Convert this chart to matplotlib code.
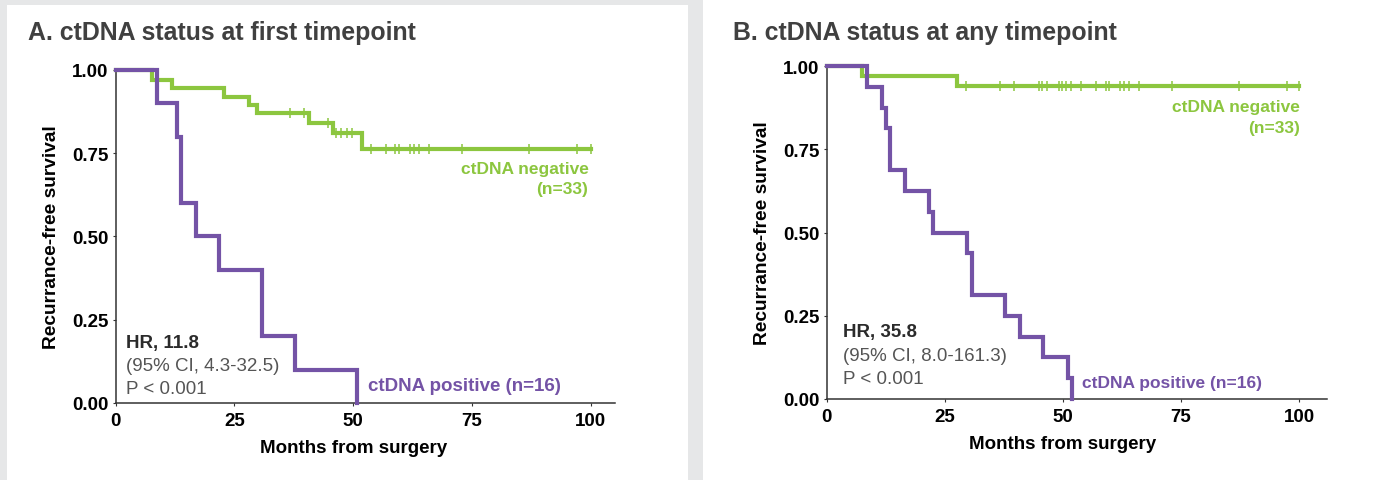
import matplotlib
matplotlib.use("Agg")
import matplotlib.pyplot as plt
from matplotlib.patches import Rectangle

plt.rcParams['font.family'] = ['Liberation Sans', 'DejaVu Sans']

GREEN = '#8CC63F'
PURPLE = '#7453A6'
DARK = '#333333'

# Panel A: ctDNA status at first timepoint
a_pos_times = [0, 8.7, 13.0, 13.7, 16.9, 21.8, 30.9, 37.8, 50.7]
a_pos_surv = [1.0, 0.90, 0.80, 0.60, 0.50, 0.40, 0.20, 0.10, 0.0]
a_neg_times = [0, 7.75, 11.8, 22.9, 28.1, 29.7, 40.8, 45.8, 51.9, 100]
a_neg_surv = [1.0, 0.97, 0.945, 0.92, 0.895, 0.87, 0.84, 0.81, 0.762, 0.762]
a_cens_times = [36.7, 39.7, 44.8, 46.3, 47.5, 48.8, 49.8,
                53.7, 56.8, 58.9, 59.6, 62.0, 62.8, 63.8, 65.9, 73.0, 87.0, 97.0, 100]
a_cens_surv = [0.87, 0.87, 0.84, 0.81, 0.81, 0.81, 0.81,
               0.762, 0.762, 0.762, 0.762, 0.762, 0.762, 0.762, 0.762, 0.762, 0.762, 0.762, 0.762]

# Panel B: ctDNA status at any timepoint
b_pos_times = [0, 8.5, 11.7, 12.6, 13.4, 16.6, 21.7, 22.6, 29.7, 30.7, 37.8, 40.9, 45.9, 51.0, 51.9]
b_pos_surv = [1.0, 0.9375, 0.875, 0.8125, 0.6875, 0.625, 0.5625, 0.5, 0.4375, 0.3125,
              0.25, 0.1875, 0.125, 0.0625, 0.0]
b_neg_times = [0, 7.45, 27.6, 100]
b_neg_surv = [1.0, 0.97, 0.94, 0.94]
b_cens_times = [29.45, 36.7, 39.7, 44.9, 45.7, 46.6, 49.1, 49.9, 50.7, 51.7, 53.8, 57.0,
                59.1, 59.8, 62.1, 63.0, 64.0, 66.1, 73.2, 87.3, 97.4, 100]
b_cens_surv = [0.94] * len(b_cens_times)

fig = plt.figure(figsize=(13.84, 4.81), dpi=100)
fig.patch.set_facecolor('#E6E7E8')
fig.patches.append(Rectangle((7 / 1384, 0), 681 / 1384, 475 / 481,
                             transform=fig.transFigure, facecolor='white', edgecolor='none', zorder=-10))
fig.patches.append(Rectangle((703 / 1384, 0), 681 / 1384, 480 / 481,
                             transform=fig.transFigure, facecolor='white', edgecolor='none', zorder=-10))

ax1 = fig.add_axes([0.0835, 0.1601, 0.3609, 0.6923])
ax2 = fig.add_axes([0.5972, 0.1684, 0.3616, 0.6923])


def km_panel(ax, pos_t, pos_s, neg_t, neg_s, cens_t, cens_s, xmax):
    ax.set_facecolor('none')
    ax.plot(neg_t, neg_s, drawstyle='steps-post', color=GREEN, lw=3.0,
            clip_on=False, solid_joinstyle='miter', zorder=3)
    ax.plot(cens_t, cens_s, linestyle='none', marker='|', markersize=7.5,
            markeredgewidth=1.1, color=GREEN, clip_on=False, zorder=3)
    ax.plot(pos_t, pos_s, drawstyle='steps-post', color=PURPLE, lw=3.0,
            clip_on=False, solid_joinstyle='miter', zorder=4)
    ax.set_xlim(0, xmax)
    ax.set_ylim(0, 1.0)
    ax.set_xticks([0, 25, 50, 75, 100])
    ax.set_yticks([0, 0.25, 0.5, 0.75, 1.0])
    ax.set_yticklabels(['0.00', '0.25', '0.50', '0.75', '1.00'])
    for s in ['top', 'right']:
        ax.spines[s].set_visible(False)
    for s in ['left', 'bottom']:
        ax.spines[s].set_color(DARK)
        ax.spines[s].set_linewidth(1.1)
    ax.tick_params(axis='both', length=2.5, width=0.8, color=DARK,
                   labelsize=13.5, labelcolor='black')
    ax.tick_params(axis='x', pad=4)
    ax.tick_params(axis='y', pad=2.5)
    for lab in ax.get_xticklabels() + ax.get_yticklabels():
        lab.set_fontweight('bold')
    ax.set_ylabel('Recurrance-free survival', fontsize=13.8, fontweight='bold', labelpad=9)
    ax.set_xlabel('Months from surgery', fontsize=13.5, fontweight='bold', labelpad=8)
    ax.xaxis.set_label_coords(50 / xmax, -0.108)


km_panel(ax1, a_pos_times, a_pos_surv, a_neg_times, a_neg_surv, a_cens_times, a_cens_surv, 105.1)
km_panel(ax2, b_pos_times, b_pos_surv, b_neg_times, b_neg_surv, b_cens_times, b_cens_surv, 105.9)

# titles
fig.text(28 / 1384, 1 - 33 / 481, 'A. ctDNA status at first timepoint', fontsize=17.9,
         fontweight='bold', color='#404040', va='center', ha='left')
fig.text(733 / 1384, 1 - 33 / 481, 'B. ctDNA status at any timepoint', fontsize=17.9,
         fontweight='bold', color='#404040', va='center', ha='left')

# panel A annotations
ax1.text(2.2, 0.183, 'HR, 11.8', fontsize=13.5, fontweight='bold', color='#2B2B2B', va='center')
ax1.text(2.2, 0.112, '(95% CI, 4.3-32.5)', fontsize=13.5, color='#555555', va='center')
ax1.text(2.2, 0.044, 'P < 0.001', fontsize=13.5, color='#555555', va='center')
ax1.text(99.5, 0.703, 'ctDNA negative', fontsize=12.5, fontweight='bold', color=GREEN,
         ha='right', va='center')
ax1.text(99.5, 0.643, '(n=33)', fontsize=12.5, fontweight='bold', color=GREEN,
         ha='right', va='center')
ax1.text(53.1, 0.052, 'ctDNA positive (n=16)', fontsize=13.5, fontweight='bold', color=PURPLE,
         ha='left', va='center')

# panel B annotations
ax2.text(3.4, 0.202, 'HR, 35.8', fontsize=13.5, fontweight='bold', color='#2B2B2B', va='center')
ax2.text(3.4, 0.132, '(95% CI, 8.0-161.3)', fontsize=13.5, color='#555555', va='center')
ax2.text(3.4, 0.063, 'P < 0.001', fontsize=13.5, color='#555555', va='center')
ax2.text(100.1, 0.879, 'ctDNA negative', fontsize=12.5, fontweight='bold', color=GREEN,
         ha='right', va='center')
ax2.text(100.1, 0.816, '(n=33)', fontsize=12.5, fontweight='bold', color=GREEN,
         ha='right', va='center')
ax2.text(54.0, 0.05, 'ctDNA positive (n=16)', fontsize=12.5, fontweight='bold', color=PURPLE,
         ha='left', va='center')

fig.savefig('out.png', dpi=100, facecolor=fig.get_facecolor())
